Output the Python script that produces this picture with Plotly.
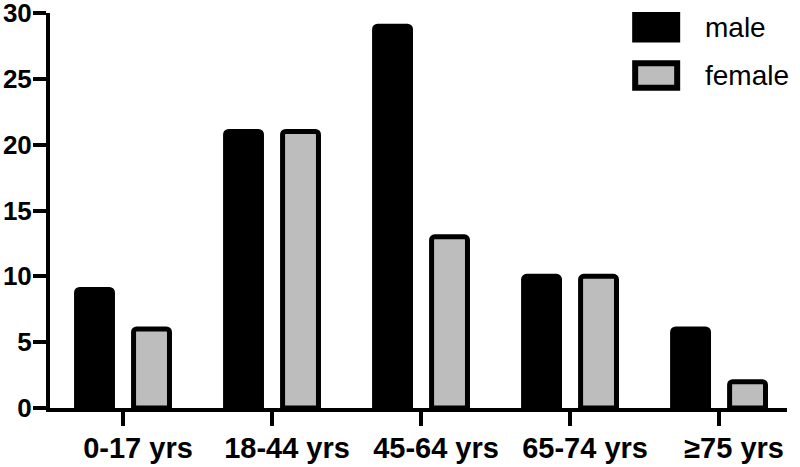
import plotly.graph_objects as go

# age groups and counts per sex
age_groups = ["0-17 yrs", "18-44 yrs", "45-64 yrs", "65-74 yrs", "≥75 yrs"]
male = [9, 21, 29, 10, 6]
female = [6, 21, 13, 10, 2]
series_names = ["male", "female"]
series_colors = ["#000000", "#bdbdbd"]
y_ticks = [0, 5, 10, 15, 20, 25, 30]

x_pos = list(range(len(age_groups)))

fig = go.Figure()
for name, vals, col in zip(series_names, [male, female], series_colors):
    fig.add_trace(go.Bar(
        x=x_pos, y=vals, name=name,
        marker=dict(color=col, line=dict(color="black", width=5)),
        showlegend=False,
    ))

fig.update_layout(
    width=800, height=467,
    margin=dict(l=50, r=13, t=13, b=59),
    paper_bgcolor="white", plot_bgcolor="white",
    barmode="group", bargap=0.235, bargroupgap=0.37,
    barcornerradius=3,
    font=dict(family="Liberation Sans, Arial, sans-serif", color="black"),
)

fig.update_xaxes(
    range=[-0.49, 4.456], automargin=False,
    tickmode="array", tickvals=x_pos, ticktext=age_groups,
    showline=True, linecolor="black", linewidth=4,
    ticks="outside", ticklen=14, tickwidth=4, tickcolor="black",
    tickfont=dict(size=29, weight="bold"),
    ticklabelshift=15, ticklabelstandoff=-3, ticklabeloverflow="allow",
    showgrid=False, zeroline=False,
)
fig.update_yaxes(
    range=[0, 30], automargin=False,
    tickmode="array", tickvals=y_ticks,
    showline=True, linecolor="black", linewidth=4,
    ticks="outside", ticklen=13, tickwidth=4, tickcolor="black",
    tickfont=dict(size=26, weight="bold"),
    ticklabelstandoff=-4, ticklabeloverflow="allow",
    showgrid=False, zeroline=False,
)

# hand-drawn legend with big swatches like the original
legend_rows = [(0.964, series_colors[0], series_names[0]),
               (0.842, series_colors[1], series_names[1])]
for yc, col, name in legend_rows:
    fig.add_shape(type="rect", xref="paper", yref="paper",
                  x0=0.794, x1=0.851, y0=yc - 0.031, y1=yc + 0.031,
                  fillcolor=col, line=dict(color="black", width=6))
    fig.add_annotation(x=0.886, y=yc, xref="paper", yref="paper",
                       text=name, showarrow=False,
                       xanchor="left", yanchor="middle",
                       font=dict(size=28, color="black"))

# page has a default 8px body margin; drop it so the figure fills the window
fig.write_html("out.html", config={"displayModeBar": False},
               post_script="document.body.style.margin='0';")
